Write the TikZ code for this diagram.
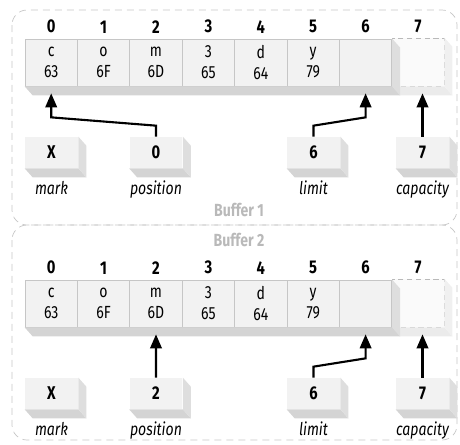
\documentclass[tikz,border=0pt]{standalone}
\usepackage{fontspec}
\setmainfont{Fira Sans}[FakeStretch=0.8]
\usetikzlibrary{calc, positioning, arrows.meta}

% Bottom and right faces of a raised block
\newcommand{\blockfaces}[1]{%
  \fill[bottomface] (#1.south west) -- (#1.south east) -- ([shift={(8,9)}]#1.south east) -- ([shift={(8,9)}]#1.south west) -- cycle;
  \fill[sideface] (#1.north east) -- ([shift={(8,9)}]#1.north east) -- ([shift={(8,9)}]#1.south east) -- (#1.south east) -- cycle;
}

\begin{document}
\begin{tikzpicture}[x=0.02cm, y=-0.02cm,
  cell/.style={draw=gray!45, fill=gray!10, minimum width=1.048cm, minimum height=0.94cm, inner sep=0, align=center, font=\fontsize{10}{12}\selectfont},
  ghost/.style={draw=gray!55, densely dashed, fill=gray!4, minimum width=1.04cm, minimum height=0.96cm},
  idx/.style={inner sep=0, font=\bfseries\fontsize{10.5}{12}\selectfont},
  box/.style={fill=gray!10, minimum width=1.06cm, minimum height=0.62cm, inner sep=0, font=\bfseries\fontsize{10.5}{12}\selectfont},
  lab/.style={inner sep=0, text height=1.6ex, text depth=.4ex, font=\itshape\fontsize{10}{12}\selectfont},
  buflab/.style={inner sep=0, text=gray!55, font=\bfseries\fontsize{10}{12}\selectfont},
  bottomface/.style={fill=gray!34},
  sideface/.style={fill=gray!26},
  ptr/.style={-{Triangle[length=2.8mm, width=2.3mm]}, line width=1.2pt},
  bufframe/.style={draw=gray!45, dash pattern=on 1.4mm off 1mm, rounded corners=3mm}
]
\useasboundingbox (0,0) rectangle (460,444);
% Dashed frames round the two buffers
\draw[bufframe] (12,10) rectangle (457,225);
\draw[bufframe] (12,225) rectangle (457,440);
\node[buflab] (name1) at (239,210) {Buffer 1};
\node[buflab] (name2) at (239,240) {Buffer 2};

\foreach \buf/\dy/\pv in {1/0/0, 2/241/2} {
\begin{scope}[shift={(0,\dy)}]
  % Empty last cell and its faces
  \node[ghost] (c\buf7) at (418,62) {};
  \fill[gray!16] (c\buf7.south west) -- (c\buf7.south east) -- ([shift={(8,9)}]c\buf7.south east) -- ([shift={(8,9)}]c\buf7.south west) -- cycle;
  \fill[gray!12] (c\buf7.north east) -- ([shift={(8,9)}]c\buf7.north east) -- ([shift={(8,9)}]c\buf7.south east) -- (c\buf7.south east) -- cycle;
  % Byte cells
  \foreach \i/\ch/\hx in {0/c/63, 1/o/6F, 2/m/6D, 3/3/65, 4/d/64, 5/y/79, 6//}
    \node[cell] (c\buf\i) at (51.2+52.4*\i, 62.5) {\ch\\\hx};
  % Faces of the slab
  \fill[bottomface] (c\buf0.south west) -- (c\buf6.south east) -- ([shift={(8,9)}]c\buf6.south east) -- ([shift={(8,9)}]c\buf0.south west) -- cycle;
  \fill[sideface] (c\buf6.north east) -- ([shift={(8,9)}]c\buf6.north east) -- ([shift={(8,9)}]c\buf6.south east) -- (c\buf6.south east) -- cycle;
  % Index numbers
  \foreach \i in {0,...,7}
    \node[idx, above=1mm of c\buf\i] (n\buf\i) {\i};
  % Marker blocks
  \node[box] (mark\buf) at (51.5,152.5) {X};
  \node[box] (pos\buf) at (156,152.5) {\pv};
  \node[box] (lim\buf) at (313.5,152.5) {6};
  \node[box] (cap\buf) at (422.5,152.5) {7};
  \blockfaces{mark\buf}
  \blockfaces{pos\buf}
  \blockfaces{lim\buf}
  \blockfaces{cap\buf}
  \node[lab, below=2.2mm of mark\buf] (markl\buf) {mark};
  \node[lab, below=2.2mm of pos\buf] (posl\buf) {position};
  \node[lab, below=2.2mm of lim\buf] (liml\buf) {limit};
  \node[lab, below=2.2mm of cap\buf] (capl\buf) {capacity};
  % Pointers into the cells
  \draw[ptr] (pos\buf.north) -- ++(0,-11) -- ($(c\buf\pv.south)+(0,31)$) -- ($(c\buf\pv.south)+(0,7)$);
  \draw[ptr] (lim\buf.north) -- ++(0,-11) -- ($(c\buf6.south)+(0,31)$) -- ($(c\buf6.south)+(0,7)$);
  \draw[ptr] (cap\buf.north) -- ($(cap\buf.north |- c\buf7.south)+(0,7)$);
\end{scope}
}
\end{tikzpicture}
\end{document}
